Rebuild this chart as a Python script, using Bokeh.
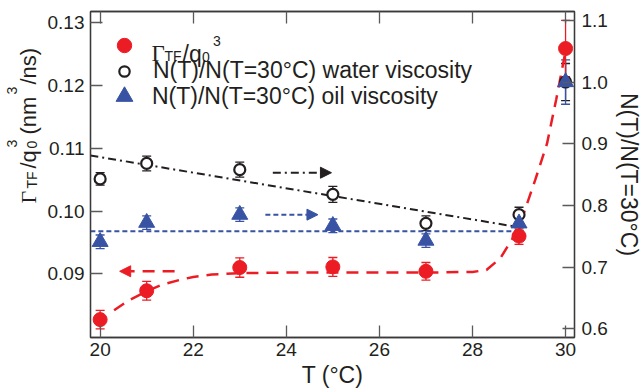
import math
from bokeh.plotting import figure
from bokeh.layouts import row
from bokeh.models import (ColumnDataSource, Range1d, LinearAxis, FixedTicker, NumeralTickFormatter,
                          Whisker, TeeHead, Arrow, NormalHead, Label, Legend, LegendItem)
from bokeh.embed import file_html
from bokeh.resources import INLINE
from bokeh.core.properties import value

# ---------------- data ----------------
T = [20, 21, 23, 25, 27, 29, 30]
gamma_tf = [0.0827, 0.0873, 0.0910, 0.0911, 0.0904, 0.0960, 0.1259]
gamma_err = [0.00146, 0.0015, 0.00155, 0.0015, 0.0014, 0.0013, 0.0045]
n_water = [0.843, 0.868, 0.858, 0.818, 0.771, 0.785, 1.0]
n_water_err = [0.010, 0.012, 0.012, 0.013, 0.012, 0.012, 0.030]
n_oil = [0.741, 0.772, 0.785, 0.767, 0.743, 0.771, 1.0]
n_oil_err = [0.011, 0.011, 0.011, 0.011, 0.011, 0.011, 0.036]

curve_T = [20.3, 20.6, 21.0, 21.3, 21.7, 22.0, 22.4, 23.0, 24.0, 25.0, 26.0, 27.0,
           28.0, 28.3, 28.6, 28.85, 29.1, 29.35, 29.6, 29.8, 30.0]
curve_gamma = [0.0842, 0.0857, 0.0872, 0.0882, 0.0890, 0.0895, 0.0899, 0.0901, 0.0902,
               0.0902, 0.0902, 0.0902, 0.0903, 0.0906, 0.0925, 0.0955, 0.0996, 0.1050,
               0.1107, 0.1178, 0.1255]

water_fit_T = [19.79, 29.05]
water_fit = [0.881, 0.764]
oil_fit_T = [19.79, 29.1]
oil_fit = [0.758, 0.758]

# arrows: (x_start, x_end, y)
arrow_gamma = [21.6, 20.42, 0.0904]
arrow_water = [23.71, 24.97, 0.853]
arrow_oil = [23.55, 24.68, 0.785]

x_ticks = [20, 22, 24, 26, 28, 30]
left_ticks = [0.09, 0.10, 0.11, 0.12, 0.13]
right_ticks = [0.6, 0.7, 0.8, 0.9, 1.0, 1.1]

RED = "#ec1c24"
BLUE = "#3953a4"
BLACK = "#231f20"
TEXT = "#231f20"
FRAME = "#3a3a3a"
TICK = "#5a5a5a"
SANS = "Liberation Sans"
SERIF = "Liberation Serif"

src = ColumnDataSource(dict(
    T=T,
    g=gamma_tf, g_up=[v + e for v, e in zip(gamma_tf, gamma_err)], g_lo=[v - e for v, e in zip(gamma_tf, gamma_err)],
    w=n_water, w_up=[v + e for v, e in zip(n_water, n_water_err)], w_lo=[v - e for v, e in zip(n_water, n_water_err)],
    o=n_oil, o_up=[v + e for v, e in zip(n_oil, n_oil_err)], o_lo=[v - e for v, e in zip(n_oil, n_oil_err)],
))

# ---------------- left title strip ----------------
LW = 44
lt = figure(width=LW, height=391, output_backend="svg", toolbar_location=None,
            x_range=Range1d(0, LW), y_range=Range1d(0, 391), min_border=0,
            x_axis_location=None, y_axis_location=None)
lt.grid.visible = False
lt.outline_line_color = None
lt.background_fill_color = "white"
lt.border_fill_color = "white"


def add_text(fig, txt, sx, sy, size, font=SANS, angle=0.0, align="left", baseline="alphabetic"):
    fig.add_layout(Label(x=sx, y=sy, x_units="screen", y_units="screen", text=txt, text_font=font,
                         text_font_size=f"{size}px", text_color=TEXT, angle=angle,
                         text_align=align, text_baseline=baseline))


A = math.pi / 2
add_text(lt, "Γ", 27.7, 134, 22, font=SERIF, angle=A)
add_text(lt, "TF", 31.7, 149, 14, angle=A)
add_text(lt, "/q", 27.7, 169, 22, angle=A)
add_text(lt, "0", 31.7, 189, 14, angle=A)
add_text(lt, "3", 11, 190, 14, angle=A)
add_text(lt, "(nm", 27.7, 203, 22, angle=A)
add_text(lt, "3", 11, 243, 14, angle=A)
add_text(lt, "/ns)", 27.7, 253, 22, angle=A)

# ---------------- main plot ----------------
p = figure(width=600, height=391, output_backend="svg", toolbar_location=None,
           x_range=Range1d(19.793, 30.192), y_range=Range1d(0.07985, 0.1318),
           min_border_left=89 - LW, min_border_right=67, min_border_top=11, min_border_bottom=54)
p.extra_y_ranges = {"right": Range1d(0.5859, 1.1143)}
p.grid.visible = False
p.outline_line_color = FRAME
p.outline_line_width = 1.3
p.background_fill_color = "white"
p.border_fill_color = "white"


def style_axis(ax):
    ax.major_tick_in = 12
    ax.major_tick_out = 0
    ax.minor_tick_in = 0
    ax.minor_tick_out = 0
    ax.axis_line_color = FRAME
    ax.axis_line_width = 1.3
    ax.major_tick_line_color = TICK
    ax.major_tick_line_width = 1.3
    ax.major_label_text_font = SANS
    ax.major_label_text_font_size = "19px"
    ax.major_label_text_color = TEXT
    ax.axis_label_text_font = SANS
    ax.axis_label_text_font_size = "23px"
    ax.axis_label_text_font_style = "normal"
    ax.axis_label_text_color = TEXT


xa = p.xaxis[0]
xa.ticker = FixedTicker(ticks=x_ticks)
style_axis(xa)
xa.major_label_standoff = 5
xa.axis_label = "T (°C)"
xa.axis_label_standoff = 3

ya = p.yaxis[0]
ya.ticker = FixedTicker(ticks=left_ticks)
ya.formatter = NumeralTickFormatter(format="0.00")
style_axis(ya)
ya.major_label_standoff = 6

ra = LinearAxis(y_range_name="right", ticker=FixedTicker(ticks=right_ticks),
                formatter=NumeralTickFormatter(format="0.0"))
style_axis(ra)
ra.major_label_standoff = 7
ra.axis_label = "N(T)/N(T=30°C)"
ra.axis_label_standoff = 5
p.add_layout(ra, "right")

ta = LinearAxis(ticker=FixedTicker(ticks=x_ticks))
style_axis(ta)
ta.major_label_text_font_size = "1px"
ta.major_label_text_color = None
ta.major_label_standoff = 0
p.add_layout(ta, "above")

# lines
p.line(water_fit_T, water_fit, y_range_name="right", line_color=BLACK, line_width=2, line_dash="8 4 2 4")
p.line(oil_fit_T, oil_fit, y_range_name="right", line_color=BLUE, line_width=2, line_dash="5 3")
p.line(curve_T, curve_gamma, line_color=RED, line_width=2.5, line_dash="12 8")

# error bars
for up, lo, col, rng in [("w_up", "w_lo", BLACK, "right"), ("o_up", "o_lo", BLUE, "right"), ("g_up", "g_lo", RED, "default")]:
    wk = Whisker(source=src, base="T", upper=up, lower=lo, dimension="height", line_color=col, line_width=1.3,
                 upper_head=TeeHead(size=9, line_color=col, line_width=1.3),
                 lower_head=TeeHead(size=9, line_color=col, line_width=1.3))
    if rng == "right":
        wk.y_range_name = "right"
    p.add_layout(wk)

r_water = p.scatter("T", "w", source=src, y_range_name="right", marker="circle", size=11,
                    fill_color="white", line_color=BLACK, line_width=2.2)
r_oil = p.scatter("T", "o", source=src, y_range_name="right", marker="triangle", size=16,
                  fill_color=BLUE, line_color=BLUE)
r_gamma = p.scatter("T", "g", source=src, marker="circle", size=14, fill_color=RED, line_color=RED)

# arrows
p.add_layout(Arrow(x_start=arrow_gamma[0], x_end=arrow_gamma[1], y_start=arrow_gamma[2], y_end=arrow_gamma[2],
                   line_color=RED, line_width=2.5, line_dash="12 8",
                   end=NormalHead(size=11, fill_color=RED, line_color=RED, line_width=1)))
p.add_layout(Arrow(x_start=arrow_water[0], x_end=arrow_water[1], y_start=arrow_water[2], y_end=arrow_water[2],
                   y_range_name="right", line_color=BLACK, line_width=2, line_dash="8 4 2 4",
                   end=NormalHead(size=11, fill_color=BLACK, line_color=BLACK, line_width=1)))
p.add_layout(Arrow(x_start=arrow_oil[0], x_end=arrow_oil[1], y_start=arrow_oil[2], y_end=arrow_oil[2],
                   y_range_name="right", line_color=BLUE, line_width=2, line_dash="5 3",
                   end=NormalHead(size=11, fill_color=BLUE, line_color=BLUE, line_width=1)))


# legends (one per entry so that each glyph can be sized)
def make_legend(renderer, label, G, loc, standoff):
    lg = Legend(items=[LegendItem(label=value(label), renderers=[renderer])], location=loc,
                padding=0, margin=0, spacing=0, glyph_width=G, glyph_height=G, label_height=G,
                label_standoff=standoff, border_line_color=None, background_fill_alpha=0,
                label_text_font=SANS, label_text_font_size="23px", label_text_color=TEXT)
    p.add_layout(lg)


make_legend(r_gamma, " ", 36, (16, 274), 9)
make_legend(r_water, "N(T)/N(T=30°C) water viscosity", 26, (21, 253), 16)
make_legend(r_oil, "N(T)/N(T=30°C) oil viscosity", 42, (13, 220), 7)

# legend text with sub/superscripts: Γ_TF/q_0^3
add_text(p, "Γ", 61, 283.7, 23, font=SERIF)
add_text(p, "TF", 74, 281.5, 14)
add_text(p, "/q", 92, 283.7, 23)
add_text(p, "0", 111.5, 281, 14)
add_text(p, "3", 122.5, 297, 14)

layout = row(lt, p, spacing=0)
open("out.html", "w").write(file_html(layout, INLINE))
